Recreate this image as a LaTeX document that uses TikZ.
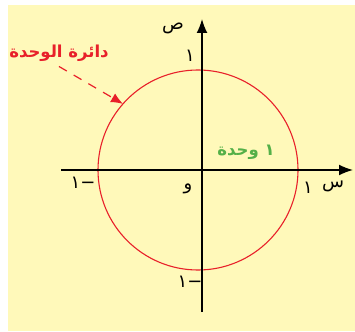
\documentclass[tikz,border=0pt]{standalone}
\usepackage{fontspec}
\usetikzlibrary{arrows.meta,calc}
\newfontfamily\arabicfont[Script=Arabic]{DejaVu Sans}
\TeXXeTstate=1
\definecolor{paper}{RGB}{255,249,186}
\definecolor{unitred}{RGB}{232,32,42}
\definecolor{unitgreen}{RGB}{84,176,72}
\tikzset{
  axis/.style={line width=1.6pt,-{Latex[length=14pt,width=11pt]}},
  lbl/.style={font=\arabicfont\fontsize{18}{20}\selectfont,inner sep=1pt},
  boldlbl/.style={font=\arabicfont\bfseries\fontsize{16.5}{19}\selectfont,inner sep=1pt}
}

\begin{document}
\begin{tikzpicture}[x=1pt,y=-1pt]
  \useasboundingbox (0,0) rectangle (355,331);
  \fill[paper] (8,5) rectangle (355,331);
  \coordinate (C) at (198,170);
  \coordinate (xl) at (61,170);
  \coordinate (xr) at (353,170);
  \coordinate (yb) at (202,312);
  \coordinate (yt) at (202,19);
  \draw[unitred,line width=1.1pt] (C) circle [radius=100pt];
  \draw[axis] (xl) -- (xr);
  \draw[axis] (yb) -- (yt);
  % labels on the axes
  \node[lbl] (ys) at (173,28) {\beginR ص\endR};
  \node[lbl] (yone) at (190,56) {\beginR ١\endR};
  \node[lbl] (xs) at (333,186) {\beginR س\endR};
  \node[lbl] (xone) at (308,188) {\beginR ١\endR};
  \node[lbl] (xmone) at (83,183) {\beginR −١\endR};
  \node[lbl] (ymone) at (190,282) {\beginR −١\endR};
  \node[lbl] (orig) at (188,189) {\beginR و\endR};
  \node[boldlbl,text=unitgreen] (unit) at (246,152) {\beginR ١ وحدة\endR};
  \node[boldlbl,text=unitred] (circ) at (59,53) {\beginR دائرة الوحدة\endR};
  \coordinate (tipc) at ($(C)+(138.6:100pt)$);
  \draw[unitred,line width=1.2pt,dash pattern=on 9pt off 8pt,
    -{Latex[length=12pt,width=10pt]}] ([yshift=-4pt]circ.south) -- (tipc);
\end{tikzpicture}
\end{document}
